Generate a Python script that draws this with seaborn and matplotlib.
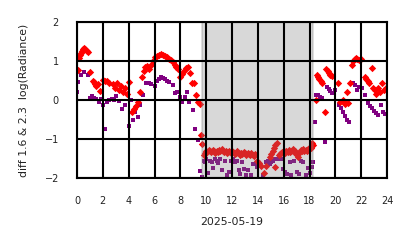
import matplotlib
matplotlib.use("Agg")
import matplotlib.pyplot as plt
import numpy as np
import pandas as pd
import seaborn as sns

# ---- data (hour of day, value) ----
red_morning_t = [0.05, 0.12, 0.2, 0.28, 0.36, 0.45, 0.55, 0.65, 0.75, 0.85,
                 1.0, 1.2, 1.3, 1.4, 1.5, 1.6, 1.75,
                 2.05, 2.2, 2.35, 2.5,
                 2.8, 2.95, 3.1, 3.25, 3.4, 3.55, 3.7, 3.85,
                 4.05, 4.25, 4.4, 4.55, 4.7, 4.85,
                 5.0, 5.15, 5.3, 5.45, 5.6, 5.75, 5.9,
                 6.05, 6.2, 6.35, 6.5, 6.65, 6.8, 6.95,
                 7.1, 7.25, 7.4, 7.55, 7.7, 7.85,
                 8.0, 8.15, 8.3, 8.45, 8.6, 8.75, 8.9,
                 9.05, 9.2, 9.35, 9.5]
red_morning_v = [0.77, 1.08, 1.15, 1.2, 1.25, 1.3, 1.33, 1.3, 1.27, 1.24,
                 0.72, 0.5, 0.47, 0.4, 0.36, 0.42, 0.22,
                 0.52, 0.5, 0.48, 0.45,
                 0.42, 0.3, 0.45, 0.25, 0.35, 0.2, 0.3, 0.15,
                 0.47, -0.3, -0.22, -0.15, -0.05, 0.2,
                 0.6, 0.75, 0.85, 0.88, 0.8, 0.9, 1.0,
                 1.1, 1.13, 1.15, 1.17, 1.15, 1.12, 1.1,
                 1.05, 1.02, 0.98, 0.9, 0.85, 0.8,
                 0.6, 0.68, 0.75, 0.82, 0.85, 0.7, 0.45,
                 0.43, 0.13, -0.05, -0.1]

red_day_t = [9.6, 9.7, 9.8, 9.9, 10.0, 10.1, 10.2, 10.3, 10.4, 10.5, 10.6, 10.7,
             10.8, 10.9, 11.0, 11.1, 11.2, 11.3, 11.4, 11.5, 11.6, 11.7, 11.8,
             11.9, 12.0, 12.1, 12.2, 12.3, 12.4, 12.5, 12.6, 12.7, 12.8, 12.9,
             13.0, 13.1, 13.2, 13.3, 13.4, 13.5, 13.6, 13.7, 13.8,
             13.95, 14.1, 14.25, 14.45, 14.65,
             14.95, 15.05, 15.15, 15.25, 15.35, 15.45, 15.3,
             15.6, 15.7, 15.8, 15.9, 16.0, 16.1, 16.2, 16.3, 16.4, 16.5, 16.6,
             16.7, 16.8, 16.9, 17.0, 17.1, 17.2, 17.3, 17.4, 17.5, 17.6, 17.7,
             17.8, 17.9, 18.0, 18.1, 18.2, 18.3]
red_day_v = [-0.9, -1.12, -1.4, -1.35, -1.3, -1.33, -1.28, -1.3, -1.32, -1.27, -1.3, -1.35,
             -1.3, -1.32, -1.28, -1.3, -1.25, -1.3, -1.33, -1.3, -1.36, -1.32, -1.3,
             -1.35, -1.3, -1.33, -1.38, -1.35, -1.3, -1.37, -1.4, -1.35, -1.38, -1.33,
             -1.37, -1.4, -1.35, -1.38, -1.42, -1.37, -1.4, -1.43, -1.38,
             -1.55, -1.62, -1.7, -1.88, -1.68,
             -1.45, -1.38, -1.3, -1.22, -1.15, -1.1, -1.72,
             -1.42, -1.38, -1.35, -1.33, -1.3, -1.35, -1.3, -1.33, -1.28, -1.32, -1.3,
             -1.25, -1.33, -1.3, -1.4, -1.45, -1.35, -1.28, -1.3, -1.25, -1.3, -1.27,
             -1.3, -1.25, -1.2, -1.22, -1.1, -1.15]

red_evening_t = [18.5, 18.55, 18.65, 18.75, 18.85, 18.95, 19.2, 19.3, 19.4, 19.5,
                 19.6, 19.7, 20.2, 20.35, 20.55, 20.65, 20.75, 20.9, 21.0, 21.1,
                 21.3, 21.4, 21.5, 21.6, 21.7, 21.85, 22.0, 22.3, 22.4, 22.5,
                 22.6, 22.8, 22.9, 23.05, 23.15, 23.3, 23.45, 23.6, 23.75, 23.9]
red_evening_v = [0.0, 0.65, 0.6, 0.55, 0.5, 0.45, -0.3, 0.8, 0.75, 0.7,
                 0.65, 0.62, 0.44, -0.05, 0.0, -0.05, -0.1, 0.2, -0.08, 0.43,
                 0.9, 1.0, 1.05, 1.07, 1.05, 1.02, 1.05, 0.6, 0.55, 0.5,
                 0.45, 0.82, 0.3, 0.25, 0.15, 0.3, 0.2, 0.43, 0.25, 0.3]

purple_morning_t = [0.03, 0.08, 0.3, 0.55, 0.85, 1.0, 1.15, 1.3, 1.45, 1.7,
                    1.85, 2.05, 2.15, 2.35, 2.5, 2.7, 2.85, 3.05, 3.25, 3.5,
                    3.75, 4.0, 4.15, 4.35, 4.5, 4.6, 4.75, 4.9, 5.1, 5.35,
                    5.55, 5.75, 6.0, 6.2, 6.35, 6.5, 6.65, 6.8, 6.95, 7.15,
                    7.4, 7.6, 7.75, 7.95, 8.15, 8.35, 8.5, 8.7, 8.95, 9.1,
                    9.35, 9.5, 9.7]
purple_morning_v = [0.2, 0.47, 0.64, 0.71, 0.64, 0.06, 0.1, 0.05, 0.04, -0.04,
                    0.04, -0.13, -0.75, -0.04, 0.0, 0.02, 0.0, 0.11, -0.02, -0.24,
                    -0.13, -0.67, 0.0, -0.51, -0.3, -0.18, -0.43, -0.13, 0.13, 0.43,
                    0.45, 0.42, 0.36, 0.5, 0.55, 0.58, 0.57, 0.55, 0.5, 0.47,
                    0.38, 0.17, 0.2, 0.08, -0.04, 0.07, 0.21, -0.04, -0.26, -0.73,
                    -1.03, -1.81, -1.97]

purple_day_t = [9.8, 9.9, 10.0, 10.15, 10.3, 10.45, 10.55, 10.65, 10.8, 10.95,
                11.1, 11.25, 11.45, 11.6, 11.75, 11.9, 12.05, 12.2, 12.35, 12.5,
                12.65, 12.8, 12.95, 13.1, 13.25, 13.45, 13.6, 13.75, 13.9, 14.05,
                14.2, 14.4, 14.6, 14.75, 14.9, 15.05, 15.2, 15.35, 15.5, 15.65,
                15.8, 15.95, 16.1, 16.25, 16.45, 16.6, 16.8, 17.0, 17.2, 17.35,
                17.5, 17.7, 17.9, 18.05, 18.2, 18.3]
purple_day_v = [-1.55, -1.6, -1.5, -1.88, -1.55, -1.6, -1.75, -1.52, -1.55, -1.62,
                -1.5, -1.8, -1.55, -1.92, -1.85, -1.55, -1.5, -1.58, -1.55, -1.8,
                -1.9, -1.6, -1.78, -1.93, -1.8, -1.92, -1.65, -1.65, -1.72, -1.62,
                -1.7, -1.93, -1.6, -1.55, -1.65, -1.6, -1.55, -1.5, -1.52, -1.47,
                -1.5, -1.78, -1.85, -1.9, -1.6, -1.93, -1.55, -1.85, -1.9, -1.55,
                -1.6, -1.92, -1.75, -1.88, -1.72, -1.6]

purple_evening_t = [18.4, 18.5, 18.65, 18.8, 18.95, 19.2, 19.35, 19.5, 19.6, 19.75,
                    20.0, 20.3, 20.45, 20.6, 20.75, 20.9, 21.05, 21.4, 21.55, 21.7,
                    21.85, 22.05, 22.3, 22.55, 22.7, 22.85, 23.0, 23.15, 23.3, 23.5,
                    23.65, 23.8]
purple_evening_v = [-0.56, 0.13, 0.13, 0.08, 0.05, -1.07, 0.33, 0.28, 0.22, 0.18,
                    0.26, -0.13, -0.2, -0.3, -0.42, -0.5, -0.56, 0.43, 0.38, 0.26,
                    0.33, 0.3, 0.13, -0.08, -0.15, -0.2, -0.27, -0.32, -0.38, -0.13,
                    -0.3, -0.35]

x_ticks = [0, 2, 4, 6, 8, 10, 12, 14, 16, 18, 20, 22, 24]
y_ticks = [-2, -1, 0, 1, 2]
night_span = [9.68, 18.3]
x_label = "2025-05-19"
y_label = "diff 1.6 & 2.3  log(Radiance)"

red = pd.DataFrame({"t": red_morning_t + red_day_t + red_evening_t,
                    "v": red_morning_v + red_day_v + red_evening_v})
purple = pd.DataFrame({"t": purple_morning_t + purple_day_t + purple_evening_t,
                       "v": purple_morning_v + purple_day_v + purple_evening_v})

sns.set_theme(style="whitegrid")
plt.rcParams["font.family"] = ["DejaVu Sans"]

fig = plt.figure(figsize=(4.14, 2.48), dpi=100)
ax = fig.add_axes([0.186, 0.282, 0.749, 0.629])

sns.scatterplot(data=purple, x="t", y="v", marker="s", color="purple",
                s=10, linewidth=0, ax=ax, zorder=1)
sns.scatterplot(data=red, x="t", y="v", marker="D", color="red",
                s=14, linewidth=0, ax=ax, zorder=1.1)

ax.axvspan(night_span[0], night_span[1], color="gray", alpha=0.3, lw=1.2, zorder=2)

ax.set_xlim(0, 24)
ax.set_ylim(-2, 2)
ax.set_xticks(x_ticks)
ax.set_yticks(y_ticks)
ax.set_axisbelow(False)
ax.grid(True, color="black", linewidth=1.5, zorder=2.5)
for sp in ax.spines.values():
    sp.set_color("black")
    sp.set_linewidth(1.5)
ax.tick_params(axis="both", direction="out", length=7, width=1.5, color="black",
               labelsize=7, labelcolor="#222222", pad=6)
ax.set_xlabel(x_label, fontsize=7.8, color="#222222", labelpad=8)
ax.set_ylabel(y_label, fontsize=7.8, color="#222222", labelpad=11)

fig.savefig("out.png", dpi=100)
